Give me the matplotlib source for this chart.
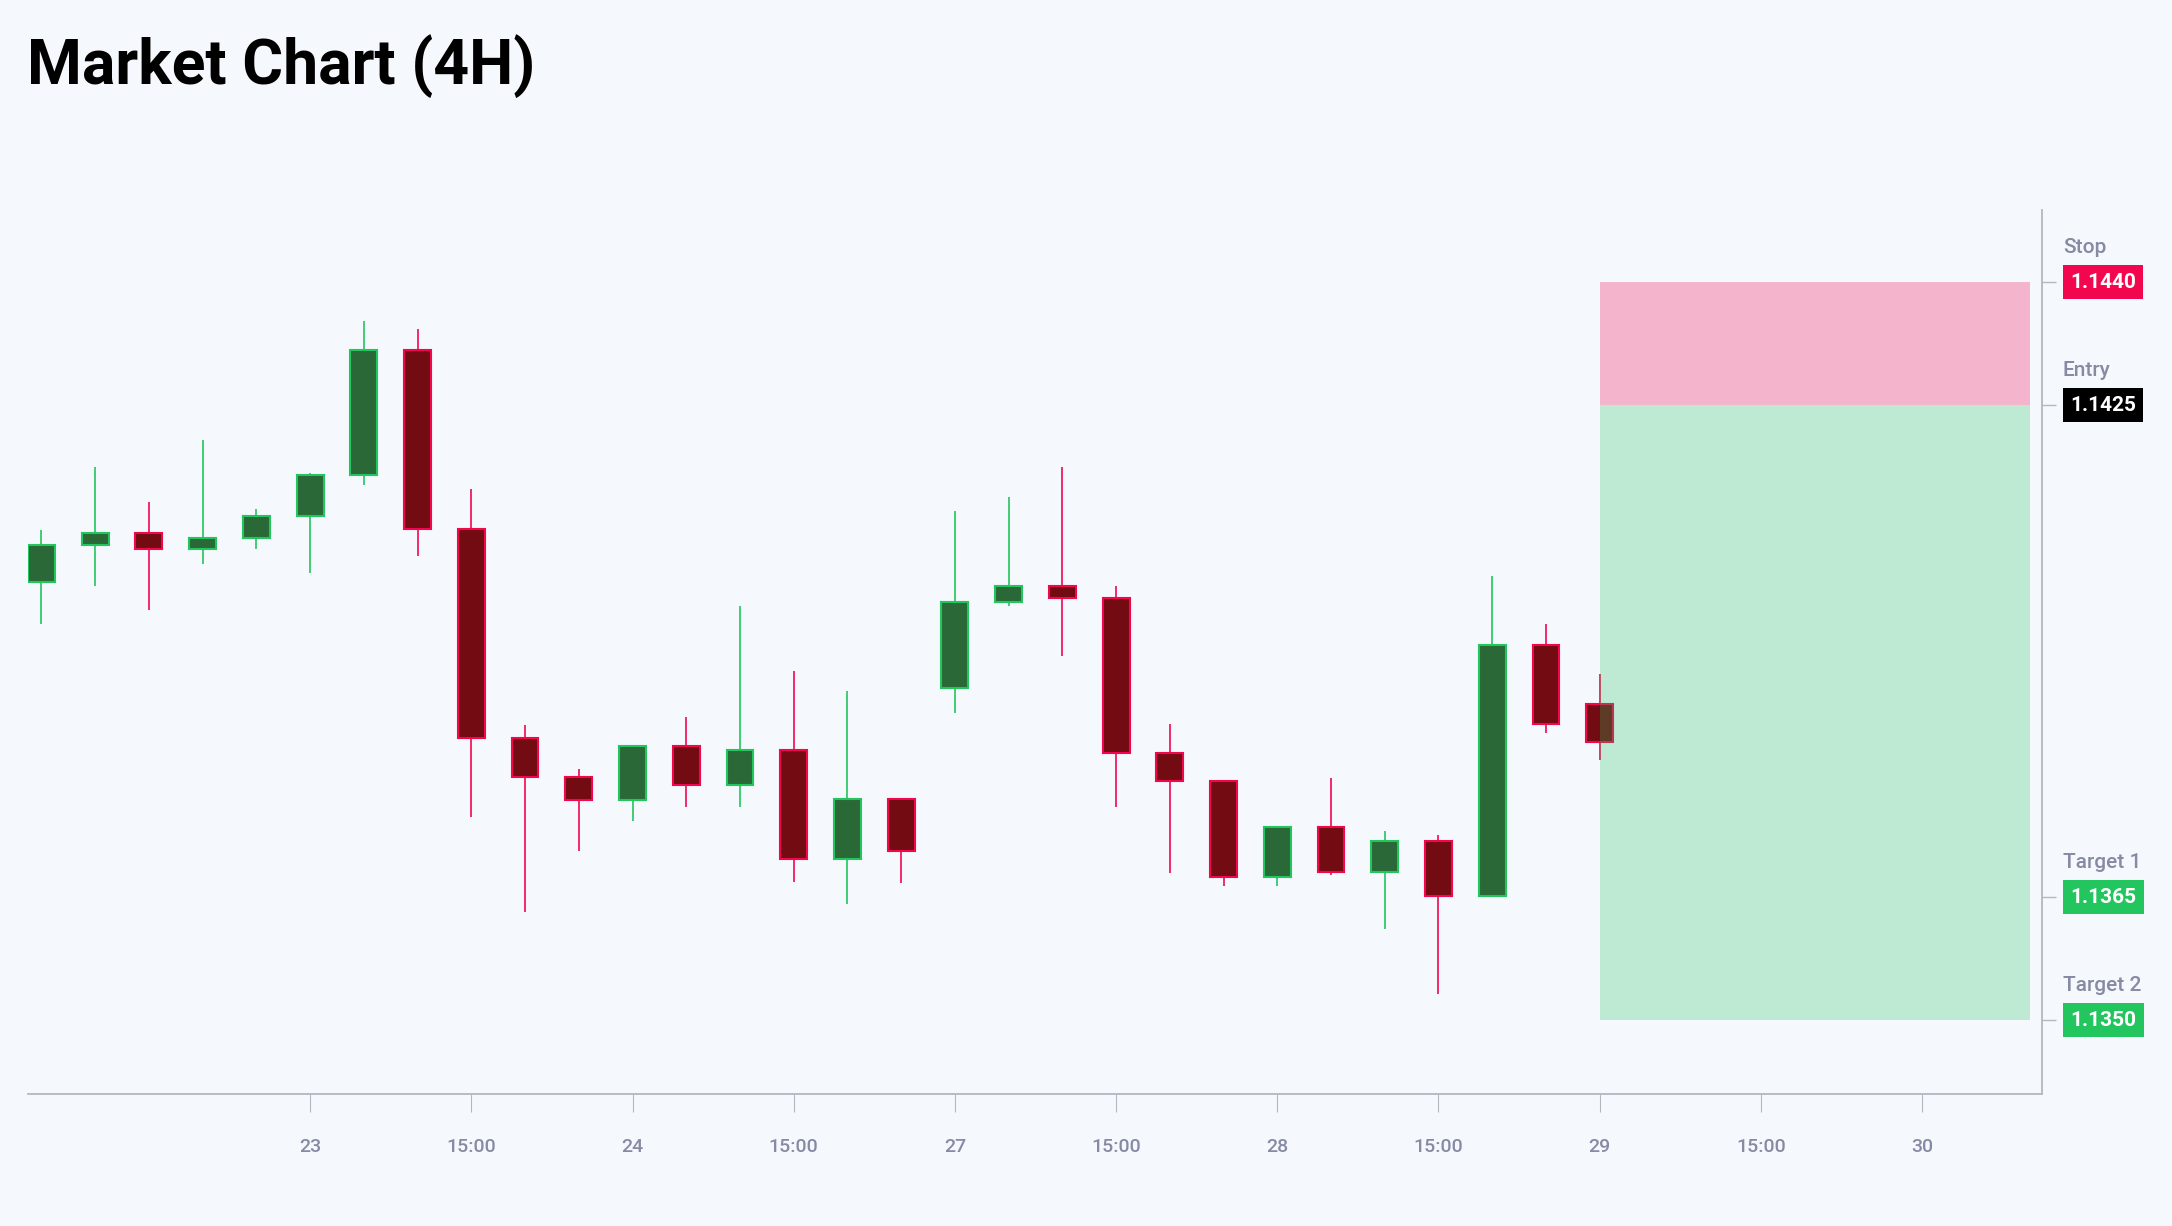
import matplotlib
matplotlib.use("Agg")
import matplotlib.pyplot as plt
import matplotlib.transforms as mtransforms

plt.rcParams['font.family'] = ['Roboto', 'DejaVu Sans']

# 4H candles, left to right (index positions on the x axis)
opens = [1.14034, 1.14079, 1.14094, 1.14074, 1.14088, 1.14115, 1.14165, 1.14317,
         1.14099, 1.13844, 1.13797, 1.13768, 1.13834, 1.13787, 1.13829, 1.13696,
         1.13770, 1.13905, 1.14010, 1.14029, 1.14015, 1.13826, 1.13792, 1.13674,
         1.13735, 1.13681, 1.13719, 1.13652, 1.13958, 1.13885]
highs = [1.14098, 1.14175, 1.14132, 1.14208, 1.14123, 1.14167, 1.14353, 1.14343,
         1.14148, 1.13860, 1.13806, 1.13834, 1.13870, 1.14005, 1.13926, 1.13902,
         1.13770, 1.14121, 1.14138, 1.14175, 1.14030, 1.13861, 1.13792, 1.13736,
         1.13795, 1.13731, 1.13726, 1.14042, 1.13983, 1.13922]
lows = [1.13983, 1.14029, 1.14000, 1.14056, 1.14074, 1.14045, 1.14153, 1.14066,
        1.13748, 1.13632, 1.13706, 1.13743, 1.13760, 1.13760, 1.13669, 1.13642,
        1.13667, 1.13875, 1.14005, 1.13944, 1.13760, 1.13679, 1.13664, 1.13664,
        1.13677, 1.13611, 1.13532, 1.13652, 1.13850, 1.13817]
closes = [1.14079, 1.14094, 1.14074, 1.14088, 1.14115, 1.14165, 1.14317, 1.14099,
          1.13844, 1.13797, 1.13768, 1.13834, 1.13787, 1.13829, 1.13696, 1.13770,
          1.13706, 1.14010, 1.14029, 1.14015, 1.13826, 1.13792, 1.13674, 1.13735,
          1.13681, 1.13719, 1.13652, 1.13958, 1.13861, 1.13839]

tick_pos = [5, 8, 11, 14, 17, 20, 23, 26, 29, 32, 35]
tick_labels = ['23', '15:00', '24', '15:00', '27', '15:00', '28', '15:00', '29', '15:00', '30']

# trade setup
level_names = ['Stop', 'Entry', 'Target 1', 'Target 2']
level_values = [1.1440, 1.1425, 1.1365, 1.1350]
level_colors = ['#f2074e', '#000000', '#22c55e', '#22c55e']
zone_x = [29, 37]

bg = '#f5f8fc'
up_fill, up_edge = '#2a6837', '#22c55e'
dn_fill, dn_edge = '#730b12', '#f2074e'
grey_txt = '#868aa2'
grey_line = '#b4b7c0'

fig = plt.figure(figsize=(21.72, 12.26), dpi=100, facecolor=bg)
ax = fig.add_axes([0.0129, 0.1077, 0.9272, 0.721])
ax.set_facecolor(bg)

n = len(opens)
xs = list(range(n))
for i in xs:
    o, h, l, c = opens[i], highs[i], lows[i], closes[i]
    up = c >= o
    fill = up_fill if up else dn_fill
    edge = up_edge if up else dn_edge
    ax.vlines(i, l, h, color=edge, linewidth=1.2, zorder=2)
    ax.bar(i, abs(c - o), bottom=min(o, c), width=0.5, color=fill,
           edgecolor=edge, linewidth=1.5, zorder=3)

# risk / reward zone
ax.fill_between(zone_x, level_values[1], level_values[0], color=dn_edge,
                alpha=0.28, linewidth=0, zorder=4)
ax.fill_between(zone_x, level_values[3], level_values[1], color=up_edge,
                alpha=0.26, linewidth=0, zorder=4)

ax.set_xlim(-0.25, 37.23)
ax.set_ylim(1.13410, 1.14488)

for s in ['top', 'left']:
    ax.spines[s].set_visible(False)
for s in ['bottom', 'right']:
    ax.spines[s].set_color(grey_line)
    ax.spines[s].set_linewidth(1.3)

ax.set_xticks(tick_pos)
ax.set_xticklabels(tick_labels, fontsize=14, color=grey_txt, fontweight='medium')
ax.tick_params(axis='x', length=13, width=0.8, color=grey_line, pad=19)

ax.yaxis.tick_right()
ax.set_yticks(level_values)
ax.set_yticklabels([])
ax.tick_params(axis='y', length=10, width=1, color=grey_line)

# level labels on the right
trans = mtransforms.blended_transform_factory(ax.transAxes, ax.transData)
for name, val, col in zip(level_names, level_values, level_colors):
    ax.text(1.0141, val, '%.4f' % val, transform=trans, fontsize=15,
            fontweight='bold', color='white', va='center', ha='left',
            bbox=dict(boxstyle='square,pad=0.35', facecolor=col, edgecolor='none'))
    ax.annotate(name, xy=(1.0104, val), xycoords=trans, xytext=(0, 25),
                textcoords='offset points', fontsize=15, color=grey_txt,
                fontweight='medium', va='center', ha='left')

fig.text(27 / 2172, 1 - 84 / 1226, 'Market Chart (4H)', fontsize=45,
         fontweight='bold', color='black', va='baseline', ha='left')

fig.savefig('out.png', dpi=100, facecolor=bg)
